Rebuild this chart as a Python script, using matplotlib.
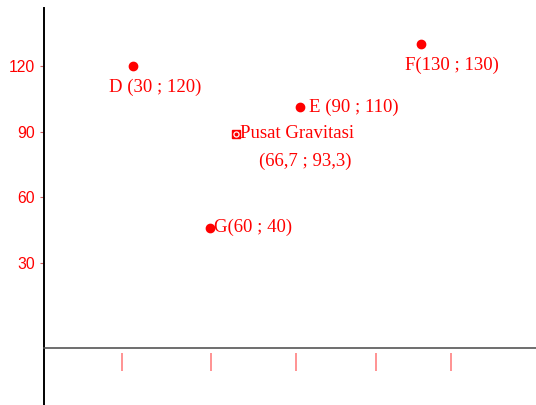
import matplotlib
matplotlib.use("Agg")
import matplotlib.pyplot as plt

# plotted point positions and their labels
names = ["D", "F", "E", "G"]
xs = [40.6, 172.6, 117.2, 76.0]
ys = [120.0, 130.0, 101.0, 46.0]
labels = ["D (30 ; 120)", "F(130 ; 130)", "E (90 ; 110)", "G(60 ; 40)"]

# centre of gravity marker
center_x = 87.7
center_y = 89.0
center_name = "Pusat Gravitasi"
center_coords = "(66,7 ; 93,3)"

# axis ticks
y_ticks = [30, 60, 90, 120]
x_tick_pos = [35.7, 76.5, 115.4, 152.0, 186.4]
x_axis_y = -9.0

RED = "#ff0000"
serif = ["Liberation Serif", "DejaVu Serif"]

fig = plt.figure(figsize=(5.36, 4.05), dpi=100)
ax = fig.add_axes([0, 0, 1, 1])
ax.set_xlim(-20.15, 225.3)
ax.set_ylim(-35.2, 150.2)

for s in ["top", "right"]:
    ax.spines[s].set_visible(False)
ax.spines["left"].set_position(("data", 0))
ax.spines["left"].set_bounds(-35.2, 146.6)
ax.spines["left"].set_linewidth(1.4)
ax.spines["left"].set_color("black")
ax.spines["bottom"].set_position(("data", x_axis_y))
ax.spines["bottom"].set_bounds(0, 225.3)
ax.spines["bottom"].set_linewidth(1.2)
ax.spines["bottom"].set_color("#555555")

ax.set_yticks(y_ticks)
ax.set_yticklabels([str(v) for v in y_ticks], color=RED,
                   fontfamily="Liberation Sans", fontsize=11.3)
ax.tick_params(axis="y", direction="out", length=3, width=0.8,
               color="#d06060", pad=3.6)
ax.set_xticks([])

# pink tick marks below the x axis (offset from the line)
ax.vlines(x_tick_pos, -19.6, -11.2, color="#ff8080", lw=1.2)

# points
ax.plot(xs, ys, "o", color=RED, markersize=6, linestyle="none")

offsets = [(23, -21), (31, -21), (9, 0), (4, 0)]
aligns = ["center", "center", "left", "left"]
for x, y, lab, off, ha in zip(xs, ys, labels, offsets, aligns):
    ax.annotate(lab, (x, y), xytext=off, textcoords="offset pixels",
                ha=ha, va="center", color=RED, family=serif, fontsize=13.5)

# centre of gravity marker: red square, white ring, red dot
ax.plot([center_x], [center_y], "s", color=RED, markersize=5.5)
ax.plot([center_x], [center_y], "o", color="white", markersize=3.6)
ax.plot([center_x], [center_y], "o", color=RED, markersize=1.8)
ax.annotate(center_name, (center_x, center_y), xytext=(4, 0),
            textcoords="offset pixels", ha="left", va="center",
            color=RED, family=serif, fontsize=13.5)
ax.annotate(center_coords, (center_x, center_y), xytext=(70, -28),
            textcoords="offset pixels", ha="center", va="center",
            color=RED, family=serif, fontsize=13.5)

fig.savefig("out.png", dpi=100)
